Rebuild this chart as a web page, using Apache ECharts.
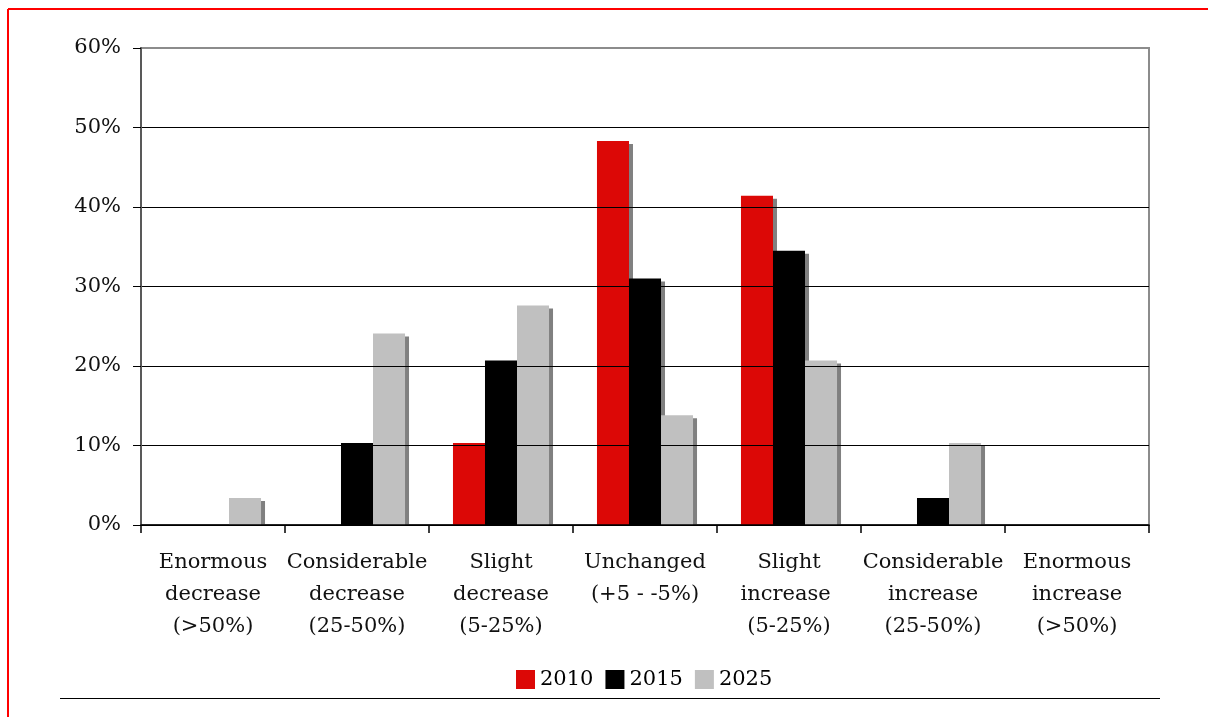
<!DOCTYPE html>
<html>
<head>
<meta charset="utf-8">
<script src="https://cdn.jsdelivr.net/npm/echarts@6/dist/echarts.min.js"></script>
<style>
  html, body { margin: 0; padding: 0; background: #fff; }
  #chart { width: 1208px; height: 717px; }
</style>
</head>
<body>
<div id="chart"></div>
<script>
// Expected change categories
const categories = [
  'Enormous\ndecrease\n(>50%)',
  'Considerable\ndecrease\n(25-50%)',
  'Slight\ndecrease\n(5-25%)',
  'Unchanged\n(+5 - -5%)',
  'Slight\nincrease \n(5-25%)',
  'Considerable\nincrease\n(25-50%)',
  'Enormous\nincrease\n(>50%)'
];

// Share of respondents per year (%)
const seriesNames = ['2010', '2015', '2025'];
const values2010 = [0, 0, 10.3, 48.3, 41.4, 0, 0];
const values2015 = [0, 10.3, 20.7, 31.0, 34.5, 3.4, 0];
const values2025 = [3.4, 24.1, 27.6, 13.8, 20.7, 10.3, 0];

// Value axis ticks
const yTicks = [0, 10, 20, 30, 40, 50, 60];

const FONT = '"DejaVu Serif", Georgia, serif';
const colors = ['#dc0806', '#000000', '#c0c0c0'];

const GRID = { left: 141, right: 59, top: 48, bottom: 192 };
const W = 1208, H = 717;

const chart = echarts.init(document.getElementById('chart'), null, { renderer: 'canvas' });

function barSeries(name, data, color) {
  return {
    name: name,
    type: 'bar',
    data: data,
    barGap: '0%',
    barCategoryGap: '33.3%',
    z: 2,
    itemStyle: {
      color: color,
      shadowColor: '#808080',
      shadowBlur: 0,
      shadowOffsetX: 4,
      shadowOffsetY: 3
    },
    emphasis: { disabled: true },
    animation: false
  };
}

const baseY = H - GRID.bottom;

const option = {
  animation: false,
  color: colors,
  grid: {
    left: GRID.left,
    right: GRID.right,
    top: GRID.top,
    bottom: GRID.bottom,
    show: true,
    borderColor: '#8c8c8c',
    borderWidth: 2,
    backgroundColor: 'transparent'
  },
  legend: {
    data: seriesNames,
    top: 669,
    left: 516,
    padding: 0,
    itemWidth: 19,
    itemHeight: 19,
    itemGap: 12,
    icon: 'rect',
    textStyle: { fontFamily: FONT, fontSize: 21, color: '#000' }
  },
  xAxis: {
    type: 'category',
    data: categories,
    boundaryGap: true,
    z: 10,
    axisLine: { show: true, lineStyle: { color: '#000', width: 1.5 } },
    axisTick: { show: true, alignWithLabel: false, length: 8, lineStyle: { color: '#000', width: 1.5 } },
    axisLabel: {
      interval: 0,
      margin: 22,
      fontFamily: FONT,
      fontSize: 21,
      lineHeight: 32,
      color: '#111',
      align: 'center'
    },
    splitLine: { show: false }
  },
  yAxis: {
    type: 'value',
    min: yTicks[0],
    max: yTicks[yTicks.length - 1],
    interval: 10,
    z: 10,
    axisLine: { show: true, lineStyle: { color: '#595959', width: 2 } },
    axisTick: { show: true, length: 8, inside: false, lineStyle: { color: '#000', width: 1 } },
    axisLabel: {
      margin: 20,
      fontFamily: FONT,
      fontSize: 21,
      color: '#111',
      formatter: '{value}%'
    },
    splitLine: {
      show: true,
      lineStyle: { color: ['#000', '#000', '#000', '#000', '#000', '#000', '#8c8c8c'], width: 1 }
    }
  },
  series: [
    barSeries(seriesNames[0], values2010, colors[0]),
    barSeries(seriesNames[1], values2015, colors[1]),
    barSeries(seriesNames[2], values2025, colors[2])
  ],
  graphic: [
    // keep the bar shadows from spilling under the baseline
    { type: 'rect', shape: { x: GRID.left + 1, y: baseY + 1, width: W - GRID.left - GRID.right - 2, height: 5 },
      style: { fill: '#fff' }, z: 5, silent: true },
    // red page frame (top and left edges)
    { type: 'line', shape: { x1: 8, y1: 9, x2: 1208, y2: 9 }, style: { stroke: '#ff0000', lineWidth: 2 }, z: 100 },
    { type: 'line', shape: { x1: 8, y1: 9, x2: 8, y2: 717 }, style: { stroke: '#ff0000', lineWidth: 2 }, z: 100 },
    // rule under the legend
    { type: 'line', shape: { x1: 60, y1: 698.5, x2: 1160, y2: 698.5 }, style: { stroke: '#000', lineWidth: 1 }, z: 100 }
  ]
};

chart.setOption(option);
</script>
</body>
</html>
